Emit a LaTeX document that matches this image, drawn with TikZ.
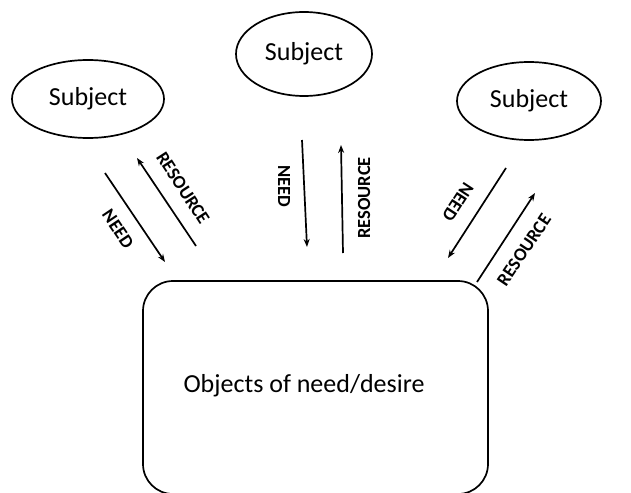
\documentclass[tikz,border=0pt]{standalone}
\usepackage{fontspec}
\setmainfont{Carlito}
\usetikzlibrary{shapes.geometric,arrows.meta}
\tikzset{
  subj/.style={draw,ellipse,line width=1.7pt,inner sep=0pt,font=\fontsize{26}{30}\selectfont},
  objbox/.style={draw,rounded corners=30pt,line width=1.7pt},
  objtext/.style={font=\fontsize{26}{30}\selectfont,inner sep=0pt},
  flow/.style={line width=1.7pt,-{Stealth[length=8pt,width=6pt]}},
  lab/.style={font=\bfseries\fontsize{18.5}{20}\selectfont,inner sep=0pt}
}
\begin{document}
\begin{tikzpicture}[x=1pt,y=-1pt]
\useasboundingbox (0,0) rectangle (631,492);
\fill[white] (0,0) rectangle (631,492);
% subjects
\node[subj,minimum width=152pt,minimum height=78pt] (s1) at (88,99) {Subject};
\node[subj,minimum width=136pt,minimum height=84pt] (s2) at (304,54) {Subject};
\node[subj,minimum width=144pt,minimum height=78pt] (s3) at (529,101) {Subject};
% object box
\node[objbox,minimum width=345pt,minimum height=213pt] (obj) at (315.5,387.5) {};
\node[objtext] (objt) at (304,386) {Objects of need/desire};
% left arrows
\coordinate (a1s) at (105,173); \coordinate (a1e) at (165,262);
\coordinate (b1s) at (196,246); \coordinate (b1e) at (137,158);
\draw[flow] (a1s) -- (a1e);
\draw[flow] (b1s) -- (b1e);
\node[lab,rotate=-56] (n1) at (118,229) {NEED};
\node[lab,rotate=-57] (r1) at (183,188) {RESOURCE};
% middle arrows
\coordinate (a2s) at (302,140); \coordinate (a2e) at (307,247);
\coordinate (b2s) at (343,253); \coordinate (b2e) at (341,145);
\draw[flow] (a2s) -- (a2e);
\draw[flow] (b2s) -- (b2e);
\node[lab,rotate=-90] (n2) at (284,186) {NEED};
\node[lab,rotate=90] (r2) at (364,198) {RESOURCE};
% right arrows
\coordinate (a3s) at (506,168); \coordinate (a3e) at (448,258);
\coordinate (b3s) at (477,282); \coordinate (b3e) at (535,193);
\draw[flow] (a3s) -- (a3e);
\draw[flow] (b3s) -- (b3e);
\node[lab,rotate=-123] (n3) at (458,202) {NEED};
\node[lab,rotate=56] (r3) at (524,250) {RESOURCE};
\end{tikzpicture}
\end{document}
